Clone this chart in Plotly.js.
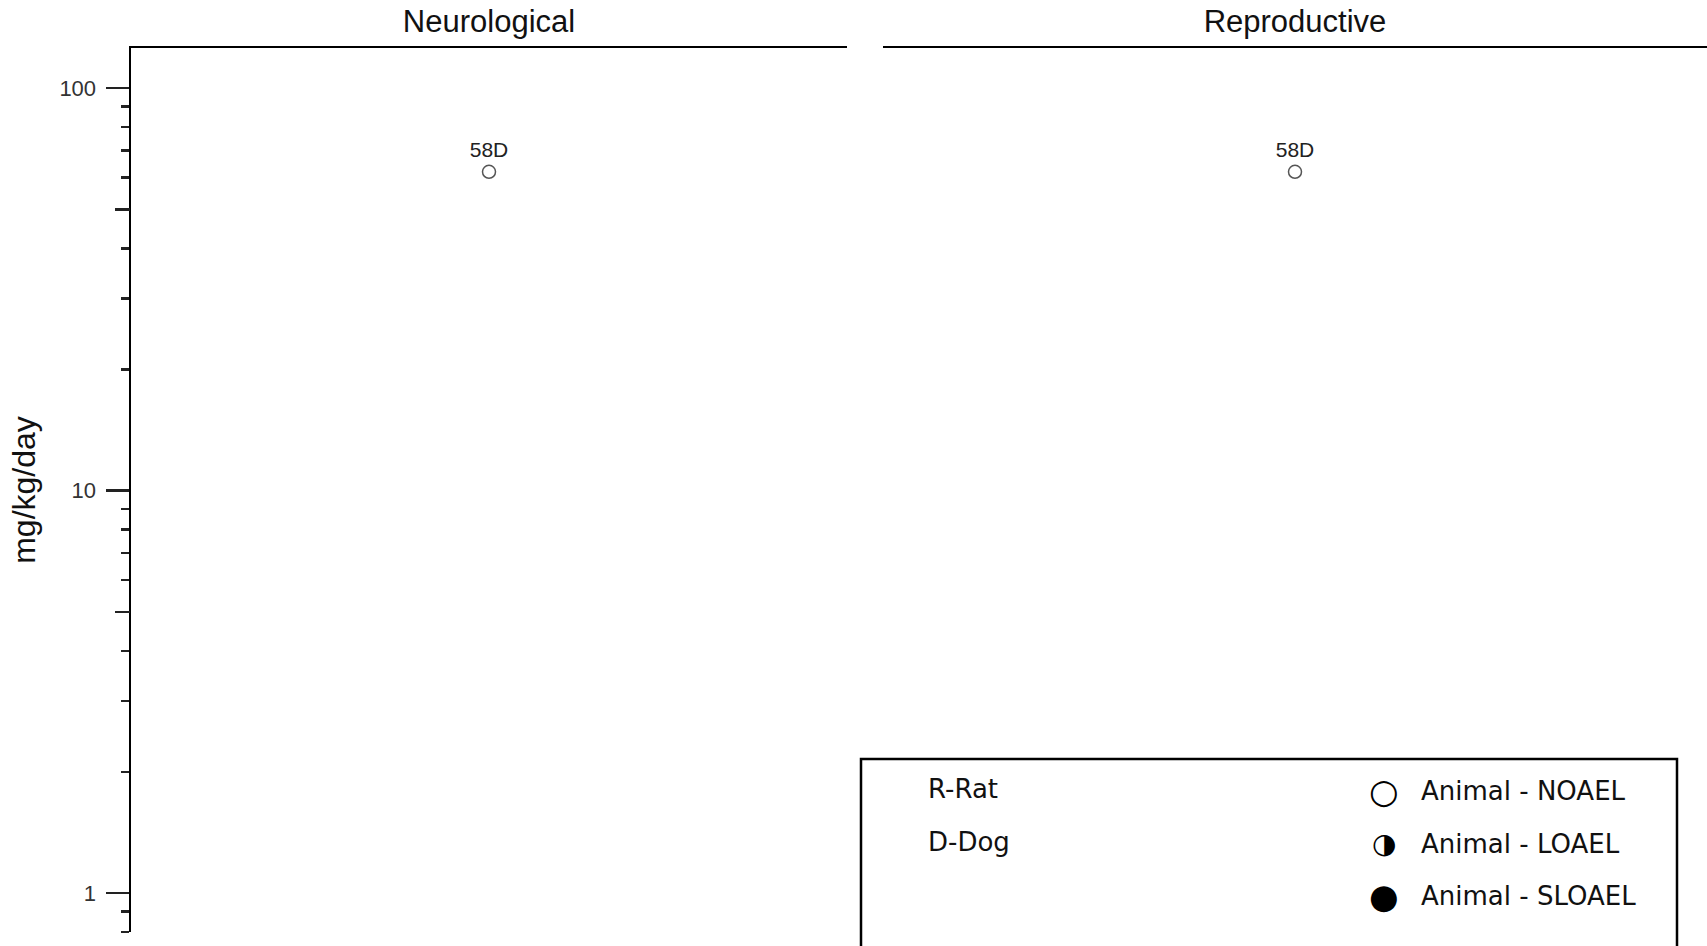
<!DOCTYPE html>
<html>
<head>
<meta charset="utf-8">
<script src="https://cdn.plot.ly/plotly-3.0.1.min.js"></script>
<style>html,body{margin:0;padding:0;background:#fff;}#chart{width:1707px;height:946px;}</style>
</head>
<body>
<div id="chart"></div>
<script>
// ---- data ----
const panels = ["Neurological", "Reproductive"];
const doses = [62, 62];                 // mg/kg/day
const pointLabels = ["58D", "58D"];
const yTickVals = [1, 10, 100];
const yTickText = ["1", "10", "100"];
const yMidTicks = [5, 50];
const speciesKey = ["R-Rat", "D-Dog"];
const effectLevels = ["Animal - NOAEL", "Animal - LOAEL", "Animal - SLOAEL"];
const effectSymbols = ["\u25CB", "\u25D1", "\u25CF"];
const effectSymbolSizes = [34, 28, 34];

// minor tick positions on the log axis
const minorTicks = [0.8, 0.9];
[1, 10].forEach(d => { for (let k = 2; k <= 9; k++) minorTicks.push(k * d); });

// ---- geometry helpers (pixels -> paper) ----
const W = 1707, H = 946, MT = 48, MB = 14;
const PH = H - MT - MB;
const px = v => v / W;
const py = v => (H - MB - v) / PH;

const font = "Liberation Sans, Arial, sans-serif";
const legendFont = "DejaVu Sans, sans-serif";

const traces = panels.map((p, i) => ({
  type: "scatter",
  mode: "markers+text",
  x: [0],
  y: [doses[i]],
  text: [pointLabels[i]],
  textposition: "top center",
  textfont: {family: font, size: 21, color: "#222"},
  marker: {symbol: "circle-open", size: 13, color: "#555", line: {width: 1.5, color: "#555"}},
  xaxis: i === 0 ? "x" : "x2",
  yaxis: i === 0 ? "y" : "y2",
  showlegend: false,
  hoverinfo: "skip",
  cliponaxis: false
}));

// medium-length ticks at 5 and 50 (overlay axis)
traces.push({type: "scatter", x: [], y: [], xaxis: "x", yaxis: "y3", showlegend: false});

const yRange = [Math.log10(0.8), 2.1];

function xAxis(domain, anchor, title) {
  return {
    domain: domain, anchor: anchor, side: "top",
    range: [-1, 1], fixedrange: true,
    showline: true, linecolor: "#000", linewidth: 2.5,
    showticklabels: false, ticks: "", showgrid: false, zeroline: false,
    title: {text: title, font: {family: font, size: 31, color: "#111"}, standoff: 4}
  };
}

const annotations = [];
speciesKey.forEach((s, i) => annotations.push({
  xref: "paper", yref: "paper", x: px(926), y: py(789 + i * 53),
  xanchor: "left", yanchor: "middle", showarrow: false,
  text: s, font: {family: legendFont, size: 26, color: "#111"}
}));
effectLevels.forEach((s, i) => {
  const yc = py(791 + i * 52.5);
  annotations.push({
    xref: "paper", yref: "paper", x: px(1384), y: yc,
    xanchor: "center", yanchor: "middle", showarrow: false,
    text: effectSymbols[i], font: {family: legendFont, size: effectSymbolSizes[i], color: "#000"}
  });
  annotations.push({
    xref: "paper", yref: "paper", x: px(1419), y: yc,
    xanchor: "left", yanchor: "middle", showarrow: false,
    text: s, font: {family: legendFont, size: 26, color: "#111"}
  });
});

const layout = {
  width: W, height: H,
  margin: {l: 0, r: 0, t: MT, b: MB, pad: 0},
  paper_bgcolor: "#fff", plot_bgcolor: "#fff",
  showlegend: false,
  xaxis: xAxis([px(131), px(847)], "y", panels[0]),
  xaxis2: xAxis([px(883), 1], "y2", panels[1]),
  yaxis: {
    type: "log", range: yRange, anchor: "x", fixedrange: true,
    showline: true, linecolor: "#000", linewidth: 2.5,
    ticks: "outside", ticklen: 23, tickwidth: 2.5, tickcolor: "#222",
    tickmode: "array", tickvals: yTickVals, ticktext: yTickText,
    tickfont: {family: font, size: 22, color: "#333"},
    ticklabelstandoff: 5,
    minor: {tickmode: "array", tickvals: minorTicks, ticks: "outside", ticklen: 8, tickwidth: 2.5, tickcolor: "#222", showgrid: false},
    showgrid: false, zeroline: false,
    title: {text: "mg/kg/day", font: {family: font, size: 32, color: "#111"}, standoff: 14}
  },
  yaxis2: {
    type: "log", range: yRange, anchor: "x2", matches: "y", fixedrange: true,
    showline: false, ticks: "", showticklabels: false, showgrid: false, zeroline: false
  },
  yaxis3: {
    type: "log", range: yRange, overlaying: "y", anchor: "x", side: "left", fixedrange: true,
    showline: false, ticks: "outside", ticklen: 15, tickwidth: 2.5, tickcolor: "#222",
    tickmode: "array", tickvals: yMidTicks, showticklabels: false, showgrid: false, zeroline: false
  },
  shapes: [{
    type: "rect", xref: "paper", yref: "paper",
    x0: px(861), x1: px(1677), y0: py(759), y1: py(1000),
    line: {color: "#000", width: 2.5}, fillcolor: "rgba(0,0,0,0)", layer: "above"
  }],
  annotations: annotations
};

Plotly.newPlot("chart", traces, layout, {displayModeBar: false, staticPlot: true});
</script>
</body>
</html>
